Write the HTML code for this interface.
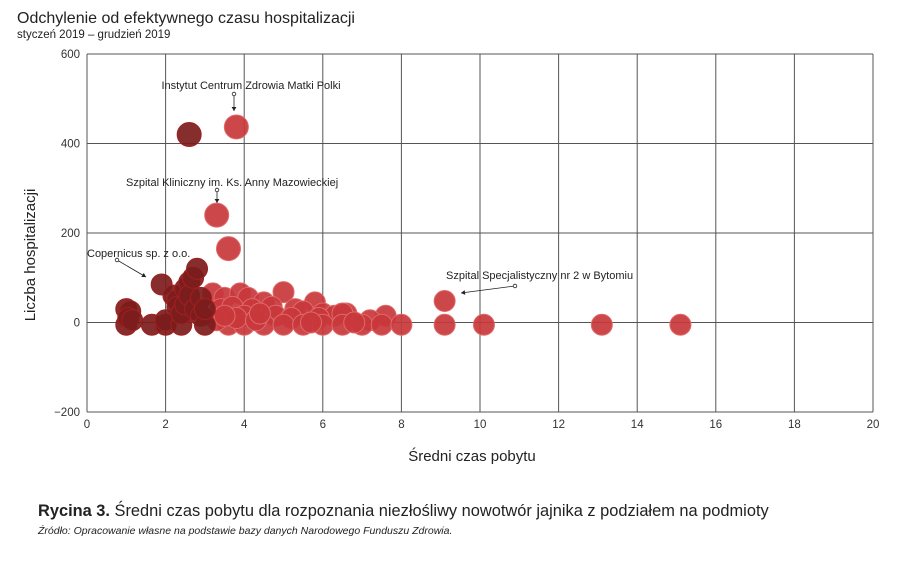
<!DOCTYPE html>
<html><head><meta charset="utf-8"><style>
body{margin:0;background:#fff;width:900px;height:564px;overflow:hidden;font-family:"Liberation Sans",sans-serif;}
svg{display:block}
</style></head><body>
<svg id="chart" width="900" height="564">
<text x="17" y="23" font-size="16" fill="#222">Odchylenie od efektywnego czasu hospitalizacji</text>
<text x="17" y="38" font-size="11.5" fill="#222">styczeń 2019 – grudzień 2019</text>
<g id="grid"></g>
<g id="dots"></g>
<g id="ann" font-size="11" fill="#222"></g>
<text x="472" y="461" font-size="15" text-anchor="middle" fill="#222">Średni czas pobytu</text>
<text transform="translate(35,255) rotate(-90)" font-size="15" text-anchor="middle" fill="#222">Liczba hospitalizacji</text>
<text x="38" y="516" font-size="16.4" fill="#222"><tspan font-weight="bold">Rycina 3.</tspan> Średni czas pobytu dla rozpoznania niezłośliwy nowotwór jajnika z podziałem na podmioty</text>
<text x="38" y="534" font-size="10.5" font-style="italic" fill="#222">Źródło: Opracowanie własne na podstawie bazy danych Narodowego Funduszu Zdrowia.</text>
</svg>
<script>
const xTicks=[0,2,4,6,8,10,12,14,16,18,20];
const yTicks=[-200,0,200,400,600];
const darkX=[1.0,1.0,1.1,1.05,1.15,1.65,1.9,2.0,2.0,2.2,2.3,2.3,2.4,2.4,2.5,2.5,2.6,2.6,2.7,2.8,2.75,2.9,2.9,3.0,3.0,2.6];
const darkY=[-5,30,25,10,5,-5,85,-5,5,60,50,35,-5,20,75,40,90,60,100,120,30,55,15,-5,30,420];
const redX=[3.8,3.3,3.6,9.1,3.2,3.5,3.9,4.1,4.5,5.0,5.8,6.6,7.6,3.4,3.7,4.2,4.7,5.3,5.5,6.0,6.3,6.5,4.0,4.8,5.2,5.9,7.2,3.6,4.0,4.5,5.0,5.5,6.0,6.5,7.0,7.5,8.0,9.1,10.1,13.1,15.1,3.3,3.8,4.3,5.7,6.8,3.5,4.4];
const redY=[437,240,165,48,65,55,65,55,45,68,45,20,15,30,35,30,35,30,25,20,15,20,15,15,10,10,5,-5,-5,-5,-5,-5,-5,-5,-5,-5,-5,-5,-5,-5,-5,5,10,5,0,0,15,20];
const NS='http://www.w3.org/2000/svg';
const X0=87,X1=873,Y0=412,Y1=54;
const sx=v=>X0+(v-0)/(20-0)*(X1-X0);
const sy=v=>Y0-(v+200)/(800)*(Y0-Y1);
function mk(tag,attrs,parent){const e=document.createElementNS(NS,tag);for(const k in attrs)e.setAttribute(k,attrs[k]);parent.appendChild(e);return e;}
const grid=document.getElementById('grid');
xTicks.forEach(t=>{
  const l=mk('line',{x1:sx(t),x2:sx(t),y1:Y1,y2:Y0,stroke:'#555','stroke-width':1},grid);
  
  
  const tx=mk('text',{x:sx(t),y:428,'font-size':11.5,'text-anchor':'middle',fill:'#333'},grid);
  tx.textContent=t;
  
  
});
yTicks.forEach(t=>{
  const l=mk('line',{x1:X0,x2:X1,y1:sy(t),y2:sy(t),stroke:'#555','stroke-width':1},grid);
  
  
  const tx=mk('text',{x:80,y:sy(t)+4,'font-size':11.5,'text-anchor':'end',fill:'#333'},grid);
  tx.textContent=t===-200?'−200':t;
  
  
});
const dots=document.getElementById('dots');
function plot(xs,ys,fill,stroke,name){
  xs.forEach((x,i)=>{
    const big=ys[i]>150;
    const c=mk('circle',{cx:sx(x),cy:sy(ys[i]),r:big?12:10.5,fill:fill,stroke:stroke,'stroke-width':1,'fill-opacity':0.92},dots);
    
    
  });
}
plot(redX,redY,'#c8373b','#e06a6a','point-red');
plot(darkX,darkY,'#7c1c1c','#a02020','point-dark');
const ann=document.getElementById('ann');
function annot(text,tx,ty,anchor,x1,y1,x2,y2,name){
  const t=mk('text',{x:tx,y:ty,'text-anchor':anchor},ann);t.textContent=text;
  
  
  mk('line',{x1:x1,y1:y1,x2:x2,y2:y2,stroke:'#222','stroke-width':0.8},ann);
  mk('circle',{cx:x1,cy:y1,r:1.8,fill:'#fff',stroke:'#222','stroke-width':0.8},ann);
  const a=Math.atan2(y2-y1,x2-x1),s=4;
  mk('polygon',{points:`${x2},${y2} ${x2-s*Math.cos(a)+s*0.6*Math.sin(a)},${y2-s*Math.sin(a)-s*0.6*Math.cos(a)} ${x2-s*Math.cos(a)-s*0.6*Math.sin(a)},${y2-s*Math.sin(a)+s*0.6*Math.cos(a)}`,fill:'#222'},ann);
}
annot('Instytut Centrum Zdrowia Matki Polki',251,89,'middle',234,94,234,111,'annotation-matki-polki');
annot('Szpital Kliniczny im. Ks. Anny Mazowieckiej',126,186,'start',217,190,217,203,'annotation-mazowieckiej');
annot('Copernicus sp. z o.o.',87,257,'start',117,260,146,277,'annotation-copernicus');
annot('Szpital Specjalistyczny nr 2 w Bytomiu',446,279,'start',515,286,461,293,'annotation-bytom');
</script>
</body></html>
